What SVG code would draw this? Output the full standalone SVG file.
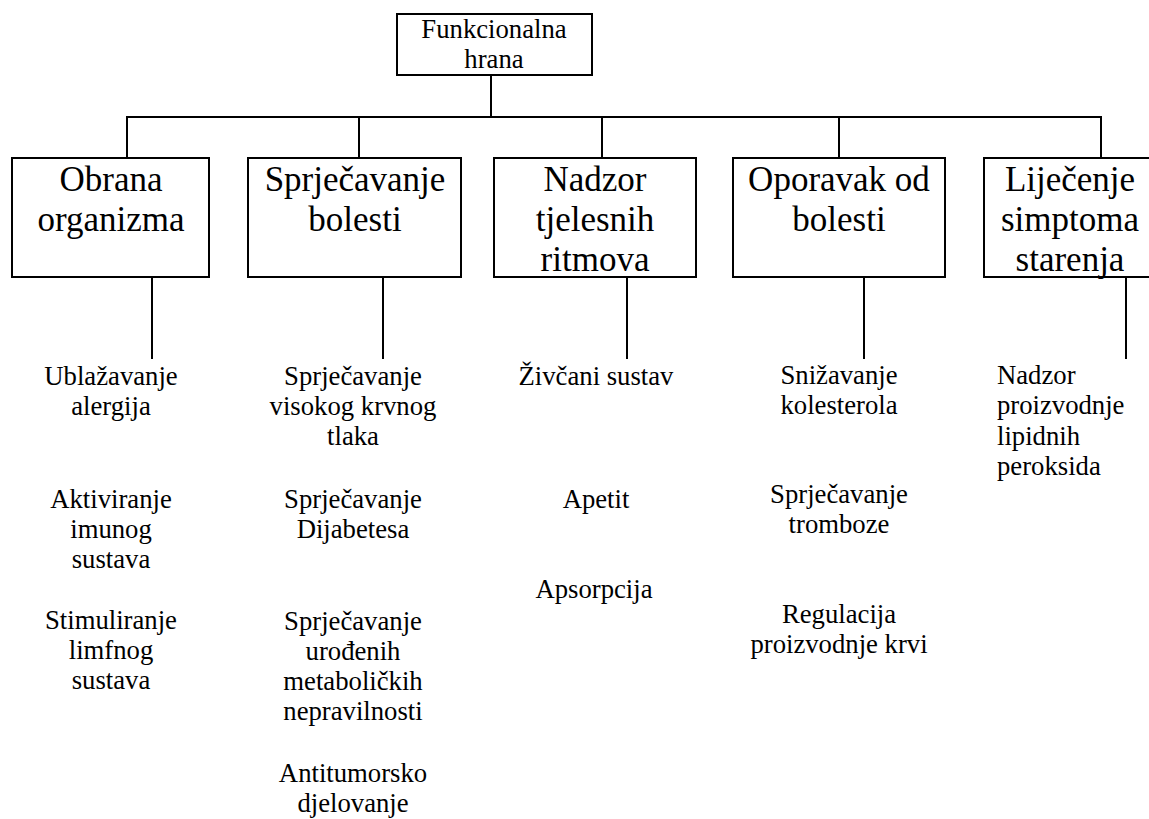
<svg xmlns="http://www.w3.org/2000/svg" width="1149" height="819" viewBox="0 0 1149 819" font-family="Liberation Serif">
<style>
.box{fill:#fff;stroke:#000;stroke-width:2}
.ln{stroke:#000;stroke-width:2;fill:none}
.big{font-size:35px;text-anchor:middle}
.sm{font-size:26.7px;text-anchor:middle}
.lf{font-size:26.7px;text-anchor:start}
</style>
<rect width="1149" height="819" fill="#fff"/>
<g id="connectors">
<path class="ln" d="M491 76V117M126 117H1102M127 117V158M359 117V158M602 117V158M839 117V158M1101 117V158"/>
<path class="ln" d="M152 278V359M383 278V359M627 278V359M864 278V359M1126 278V359"/>
</g>
<g id="root">
<rect class="box" x="397" y="14" width="195" height="61"/>
<text class="sm" x="494" y="38">Funkcionalna</text>
<text class="sm" x="494" y="68">hrana</text>
</g>
<g id="n1">
<rect class="box" x="12" y="158" width="197" height="119"/>
<text class="big" x="111" y="191">Obrana</text>
<text class="big" x="111" y="231">organizma</text>
</g>
<g id="n2">
<rect class="box" x="248" y="158" width="213" height="119"/>
<text class="big" x="355" y="191">Sprječavanje</text>
<text class="big" x="355" y="231">bolesti</text>
</g>
<g id="n3">
<rect class="box" x="494" y="158" width="202" height="119"/>
<text class="big" x="595" y="191">Nadzor</text>
<text class="big" x="595" y="231">tjelesnih</text>
<text class="big" x="595" y="271">ritmova</text>
</g>
<g id="n4">
<rect class="box" x="733" y="158" width="212" height="119"/>
<text class="big" x="839" y="191">Oporavak od</text>
<text class="big" x="839" y="231">bolesti</text>
</g>
<g id="n5">
<rect class="box" x="984" y="158" width="172" height="119"/>
<text class="big" x="1070" y="191">Liječenje</text>
<text class="big" x="1070" y="231">simptoma</text>
<text class="big" x="1070" y="271">starenja</text>
</g>
<g id="c1">
<text class="sm" x="111" y="385">Ublažavanje</text>
<text class="sm" x="111" y="415">alergija</text>
<text class="sm" x="111" y="508">Aktiviranje</text>
<text class="sm" x="111" y="538">imunog</text>
<text class="sm" x="111" y="568">sustava</text>
<text class="sm" x="111" y="629">Stimuliranje</text>
<text class="sm" x="111" y="659">limfnog</text>
<text class="sm" x="111" y="689">sustava</text>
</g>
<g id="c2">
<text class="sm" x="353" y="385">Sprječavanje</text>
<text class="sm" x="353" y="415">visokog krvnog</text>
<text class="sm" x="353" y="445">tlaka</text>
<text class="sm" x="353" y="508">Sprječavanje</text>
<text class="sm" x="353" y="538">Dijabetesa</text>
<text class="sm" x="353" y="630">Sprječavanje</text>
<text class="sm" x="353" y="660">urođenih</text>
<text class="sm" x="353" y="690">metaboličkih</text>
<text class="sm" x="353" y="720">nepravilnosti</text>
<text class="sm" x="353" y="782">Antitumorsko</text>
<text class="sm" x="353" y="812">djelovanje</text>
</g>
<g id="c3">
<text class="sm" x="596" y="385">Živčani sustav</text>
<text class="sm" x="596" y="508">Apetit</text>
<text class="sm" x="594" y="598">Apsorpcija</text>
</g>
<g id="c4">
<text class="sm" x="839" y="384">Snižavanje</text>
<text class="sm" x="839" y="414">kolesterola</text>
<text class="sm" x="839" y="503">Sprječavanje</text>
<text class="sm" x="839" y="533">tromboze</text>
<text class="sm" x="839" y="623">Regulacija</text>
<text class="sm" x="839" y="653">proizvodnje krvi</text>
</g>
<g id="c5">
<text class="lf" x="997" y="384">Nadzor</text>
<text class="lf" x="997" y="414">proizvodnje</text>
<text class="lf" x="997" y="445">lipidnih</text>
<text class="lf" x="997" y="475">peroksida</text>
</g>
</svg>
